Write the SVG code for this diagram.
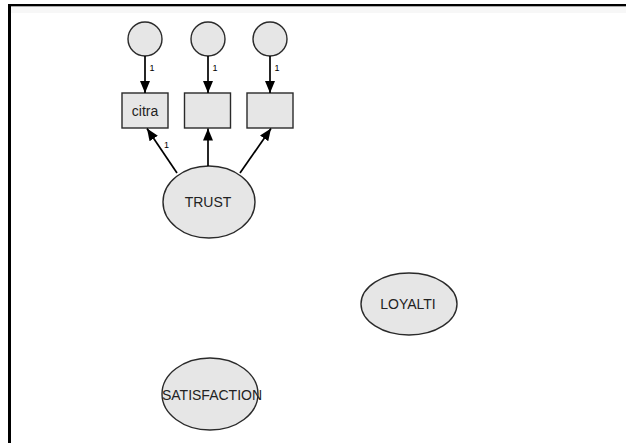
<svg xmlns="http://www.w3.org/2000/svg" width="626" height="443" viewBox="0 0 626 443">
  <defs>
    <marker id="arrow" viewBox="0 0 12 10" refX="12" refY="5" markerWidth="12" markerHeight="10" markerUnits="userSpaceOnUse" orient="auto">
      <path d="M0,0 L12,5 L0,10 Z" fill="#000"/>
    </marker>
    <style>
      .shape { fill: #e6e6e6; stroke: #2a2a2a; stroke-width: 1.4; }
      .lbl { font-family: "Liberation Sans", Arial, sans-serif; font-size: 14px; fill: #222; text-anchor: middle; }
      .w { font-family: "Liberation Sans", Arial, sans-serif; font-size: 9px; fill: #000; }
      .conn line { stroke: #000; stroke-width: 1.7; marker-end: url(#arrow); }
    </style>
  </defs>

  <!-- canvas and frame -->
  <rect x="0" y="0" width="626" height="443" fill="#fff"/>
  <rect x="11" y="7" width="615" height="6" fill="#f7f7f7"/>
  <line x1="8" y1="6.5" x2="626" y2="6.5" stroke="#aaa" stroke-width="1"/>
  <line x1="8" y1="5" x2="626" y2="5" stroke="#000" stroke-width="2"/>
  <line x1="9.5" y1="4" x2="9.5" y2="443" stroke="#000" stroke-width="3"/>

  <!-- error terms -->
  <g id="e1"><circle class="shape" cx="145" cy="39" r="17"/></g>
  <g id="e2"><circle class="shape" cx="208" cy="39" r="17"/></g>
  <g id="e3"><circle class="shape" cx="270" cy="39" r="17"/></g>

  <!-- observed indicators -->
  <g id="citra">
    <rect class="shape" x="122" y="93" width="46" height="35"/>
    <text class="lbl" x="145" y="115.5">citra</text>
  </g>
  <g id="ind2"><rect class="shape" x="184.5" y="93" width="46" height="35"/></g>
  <g id="ind3"><rect class="shape" x="247" y="93" width="46" height="35"/></g>

  <!-- latent constructs -->
  <g id="trust">
    <ellipse class="shape" cx="209" cy="202" rx="46" ry="36"/>
    <text class="lbl" x="208" y="207">TRUST</text>
  </g>
  <g id="loyalti">
    <ellipse class="shape" cx="409" cy="304" rx="48" ry="31"/>
    <text class="lbl" x="408" y="309">LOYALTI</text>
  </g>
  <g id="satisfaction">
    <ellipse class="shape" cx="210" cy="394" rx="48" ry="36"/>
    <text class="lbl" x="212" y="400">SATISFACTION</text>
  </g>

  <!-- paths -->
  <g class="conn" id="connectors">
    <line x1="145" y1="56" x2="145" y2="93"/>
    <line x1="208" y1="56" x2="208" y2="93"/>
    <line x1="270" y1="56" x2="270" y2="93"/>
    <line x1="177" y1="173" x2="147" y2="128.5"/>
    <line x1="208" y1="166" x2="208" y2="128.5"/>
    <line x1="240" y1="173" x2="271" y2="128.5"/>
    <text class="w" x="149.5" y="70.5">1</text>
    <text class="w" x="212.5" y="70.5">1</text>
    <text class="w" x="274.5" y="70.5">1</text>
    <text class="w" x="164" y="147.5">1</text>
  </g>
</svg>
